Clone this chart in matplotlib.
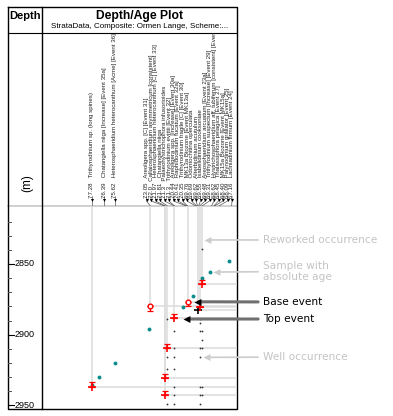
import matplotlib
matplotlib.use("Agg")
import matplotlib.pyplot as plt

# ---- data ------------------------------------------------------------------
label_num = ["77.28", "76.39", "75.62",
             "73.05", "72.0", "71.97", "71.81", "71.3", "71.3", "70.44", "70.41",
             "70.35", "69.76", "69.69", "69.62", "69.55", "69.48", "69.31", "68.62",
             "68.45", "68.40", "68.09", "67.16"]
label_age = [float(s) for s in label_num]
label_name = [
    "Trithyrodinium sp. (long spines)",
    "Chatangiella niiga [Increase] [Event 35a]",
    "Heterosphaeridium heterocanthum [Acme] [Event 36]",
    "Areoligera spp. [C] [Event 31]",
    "Callaiosphaeridium asymmetricum [consistent]",
    "Heterosphaeridium heterocanthum [C] [Event 33]",
    "Chatangiella niiga",
    "Palaeohystrichophora infusorioides",
    "Trithyrodinium evittii [Event 32]",
    "Areoligera spp. [Increase] [Event 30a]",
    "Raphidodinium fucatum [Event 32a]",
    "Trithyrodinium fragile [C] [Event 30]",
    "MK13a Biozone [Event MK13a]",
    "Odontochitina operculata",
    "Alterbidinium acutulum",
    "Isabelidinium cooksoniae",
    "Areosphaeridium arcuatum [Event 23a]",
    "Trithyrodinium suspectum [Increase] [Event 29]",
    "Hystrichosphaeridium aff. tubiferum [consistent] [Event 28]",
    "Thalassiphora pelagica [Event 27]",
    "MK15a Biozone [Event MK15a]",
    "Palynodinium grallator [Event 25]",
    "Laciniadinium firmum [Event 24]",
]

# events found in the well
ev_age = [77.28, 73.05, 72.0, 71.97, 71.81, 71.3, 70.35, 69.62, 69.48, 69.31]
ev_depth = [2936.8, 2879.7, 2942.9, 2930.8, 2909.6, 2888.4, 2876.7, 2882.5, 2880.2, 2864.4]
ev_kind = ["top", "base", "top", "top", "top", "top", "base", "zone", "top", "top"]

# samples with absolute age
abs_age = [67.35, 68.75, 69.31, 69.94, 70.69, 73.13, 75.64, 76.75, 77.26]
abs_depth = [2847.7, 2855.7, 2859.7, 2872.6, 2880.6, 2895.8, 2919.8, 2929.7, 2935.8]

# well occurrences
occ_age = [71.81] * 4 + [71.3] * 7 + [69.48] * 8 + [69.31] * 6
occ_depth = [2888.9, 2916.0, 2924.5, 2949.0,
             2897.4, 2909.6, 2916.0, 2924.5, 2936.8, 2942.9, 2949.0,
             2888.9, 2891.5, 2897.4, 2909.6, 2916.0, 2936.8, 2942.9, 2949.0,
             2839.6, 2897.4, 2903.7, 2909.6, 2936.8, 2942.9]

depth_major = [2850, 2900, 2950]
depth_minor = [2820, 2830, 2840, 2860, 2870, 2880, 2890, 2910, 2920, 2930, 2940]

# legend call-outs: text, arrow target (age, depth), text row (px), style
call_text = ["Reworked occurrence", "Sample with\nabsolute age", "Base event",
             "Top event", "Well occurrence"]
call_age = [69.16, 68.51, 69.87, 70.66, 69.21]
call_depth = [2833.0, 2855.7, 2876.7, 2888.9, 2916.0]
call_row = [240, 271.5, 302, 319, 357]
call_dark = [False, False, True, True, False]

# ---- layout (pixels) -------------------------------------------------------
W, H = 393, 416
X0, XD, X1 = 8, 42, 237
Y0, YH, YP, Y1 = 7, 33, 206, 409
age_left, age_right = 80.9, 66.77
depth_top, depth_bot = 2809.0, 2952.5


def fbox(x0, y0, x1, y1):
    return [x0 / W, 1 - y1 / H, (x1 - x0) / W, (y1 - y0) / H]


def age_px(a):
    return XD + (age_left - a) / (age_left - age_right) * (X1 - XD)


def px_age(p):
    return age_left - (p - XD) / (X1 - XD) * (age_left - age_right)


SANS = "Liberation Sans"
fig = plt.figure(figsize=(W / 100, H / 100), dpi=100)

ov = fig.add_axes([0, 0, 1, 1])
ov.set_xlim(0, W)
ov.set_ylim(H, 0)
ov.axis("off")

ax = fig.add_axes(fbox(XD, YP, X1, Y1))
ax.set_xlim(age_left, age_right)
ax.set_ylim(depth_bot, depth_top)
ax.axis("off")

axl = fig.add_axes(fbox(XD, YH, X1, YP))
axl.set_xlim(age_left, age_right)
axl.set_ylim(YP, YH)
axl.axis("off")

axd = fig.add_axes(fbox(X0, YP, XD, Y1))
axd.set_xlim(0, XD - X0)
axd.set_ylim(depth_bot, depth_top)
axd.axis("off")

# frame
ov.plot([X0, X1], [YP, YP], color="#c4c4c4", lw=1.1)
ov.plot([X0, X1, X1, X0, X0], [Y0, Y0, Y1, Y1, Y0], color="black", lw=1.0)
ov.plot([XD, XD], [Y0, Y1], color="black", lw=1.0)
ov.plot([X0, X1], [YH, YH], color="black", lw=0.8)

ov.text((X0 + XD) / 2, 16, "Depth", ha="center", va="center", fontsize=8,
        fontweight="bold", family=SANS)
ov.text((XD + X1) / 2, 15.5, "Depth/Age Plot", ha="center", va="center",
        fontsize=8.7, fontweight="bold", family=SANS)
ov.text((XD + X1) / 2, 26, "StrataData, Composite: Ormen Lange, Scheme:...",
        ha="center", va="center", fontsize=5.8, family=SANS)
ov.text(27.5, 183, "(m)", rotation=90, ha="center", va="center", fontsize=8.5,
        family=SANS)

# depth ticks
for d in depth_major:
    axd.plot([0, 6], [d, d], color="black", lw=0.8, clip_on=False)
    axd.text(6.3, d, str(d), ha="left", va="center", fontsize=6.5, family=SANS)
for d in depth_minor:
    axd.plot([0, 3], [d, d], color="#555555", lw=0.7)

# spread labels so they do not overlap
lab_px = [age_px(a) for a in label_age]
gap = 4.5
for i in range(1, len(lab_px)):
    lab_px[i] = max(lab_px[i], lab_px[i - 1] + gap)
lab_px[-1] = min(lab_px[-1], X1 - 5)
for i in range(len(lab_px) - 2, -1, -1):
    lab_px[i] = min(lab_px[i], lab_px[i + 1] - gap)

for num, name, a, p in zip(label_num, label_name, label_age, lab_px):
    la = px_age(p)
    axl.text(la, 197.5, f"{num}   {name}", rotation=90, ha="center", va="bottom",
             fontsize=4.4, family=SANS, color="#222222", clip_on=True)
    axl.plot([la, la, a], [196, 201, YP], color="#555555", lw=0.5)
    axl.plot(la, 200, marker="v", ms=2.2, color="black", mew=0)

# event guide lines
line_c = "#dedede"
for a, d in zip(ev_age, ev_depth):
    ax.plot([a, a], [depth_top, d], color=line_c, lw=1.2, zorder=1)
    ax.plot([a, age_right], [d, d], color=line_c, lw=1.2, zorder=1)

# well occurrences
ax.plot(occ_age, occ_depth, ls="none", marker="o", ms=1.3, color="#333333",
        mew=0, zorder=3)

# samples with absolute age
ax.plot(abs_age, abs_depth, ls="none", marker="o", ms=2.8, color="#0b8c8c",
        mew=0, zorder=4)

# events
for a, d, k in zip(ev_age, ev_depth, ev_kind):
    if k == "top":
        ax.errorbar(a, d, yerr=[[3.2], [0]], fmt="none", ecolor="red",
                    elinewidth=0.9, capsize=2, capthick=0.9, zorder=5)
        ax.plot(a, d, marker="+", ms=6, mew=1.2, color="red", zorder=6)
    elif k == "base":
        ax.errorbar(a, d, yerr=[[0], [3.2]], fmt="none", ecolor="red",
                    elinewidth=0.9, capsize=2, capthick=0.9, zorder=5)
        ax.plot(a, d, marker="o", ms=3.4, mew=1.0, mfc="white", mec="red",
                zorder=6)
    else:
        ax.plot(a, d, marker="+", ms=6, mew=1.2, color="black", zorder=6)

# call-outs
head = [(0, 0), (1, 0.5), (1, -0.5), (0, 0)]
for t, a, d, r, dark in zip(call_text, call_age, call_depth, call_row, call_dark):
    tc = "black" if dark else "#c4c4c4"
    sc = "#707070" if dark else "#cccccc"
    ax.annotate(t, xy=(a, d), xytext=(263 / W, 1 - r / H),
                textcoords="figure fraction", ha="left", va="center",
                fontsize=7.6, color=tc, family="DejaVu Sans",
                annotation_clip=False, zorder=8,
                arrowprops=dict(arrowstyle="-", color=sc,
                                lw=2.2 if dark else 1.2, shrinkA=1.5, shrinkB=3))
    ax.plot(a, d, marker=head, ms=10, color="black" if dark else "#cccccc",
            mew=0, clip_on=False, zorder=9)

fig.savefig("out.png", dpi=100)
